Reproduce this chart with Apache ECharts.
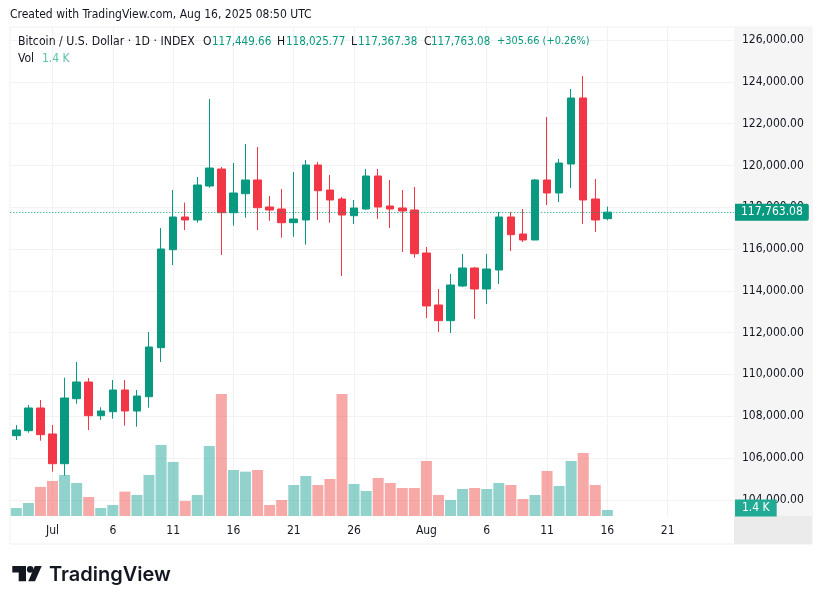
<!DOCTYPE html>
<html>
<head>
<meta charset="utf-8">
<title>Bitcoin / U.S. Dollar</title>
<script src="https://cdn.jsdelivr.net/npm/echarts@6/dist/echarts.min.js"></script>
<style>
  html, body { margin: 0; padding: 0; background: #fff; }
  #chart { width: 822px; height: 604px; }
</style>
</head>
<body>
<div id="chart"></div>
<script>
// one entry per day, 28 Jun to 26 Aug (the last ten days have no candle yet)
const dayLabels = ['28','29','30','Jul','2','3','4','5','6','7','8','9','10','11','12','13','14','15','16','17','18','19','20','21','22','23','24','25','26','27','28','29','30','31','Aug','2','3','4','5','6','7','8','9','10','11','12','13','14','15','16','17','18','19','20','21','22','23','24','25','26']
const labelledDays = [3, 8, 13, 18, 23, 28, 34, 39, 44, 49, 54]

const openValues = [107066,107305,108391,107147,105726,108836,109635,108023,108214,109252,108248,108932,111277,115966,117531,117387,119014,119827,117736,118645,119301,118009,117913,117258,117387,120019,118822,118392,117593,117913,119492,118057,117961,117865,115808,113320,112569,114229,115090,114085,114994,117531,116717,116430,119301,118679,120067,123225,118392,117449.66]
const closeValues = [107338,108391,107114,105726,108870,109635,108023,108248,109252,108248,108965,111310,115999,117531,117387,119062,119875,117736,118679,119301,117976,117865,117258,117435,120019,118789,118344,117626,117961,119492,118009,117913,117818,115774,113272,112569,114277,115090,114085,115042,117531,116684,116430,119301,118679,120114,123225,118344,117387,117763.08]
const lowValues = [106860,107209,106827,105343,105152,108597,107338,107817,107879,107544,107496,108406,110592,115234,116908,117258,118933,115712,117114,117497,116908,117354,116540,116588,116205,117387,117258,114707,117196,117865,117435,117004,115856,115583,112698,112028,111980,114181,112650,113368,114325,115904,116334,116430,118105,118248,118918,117196,116813,117367.38]
const highValues = [107578,108535,108774,107578,109841,110592,109827,108425,109731,109731,109252,112028,117004,118822,118215,119445,123177,119923,120114,121024,120880,118535,118870,119684,120258,120162,119540,118488,118344,119827,119827,119301,118822,118966,116095,114085,114803,115760,115138,115760,117770,117770,117913,119349,122316,120306,123655,124277,119349,118025.77]
const volumeValues = [1.87,3.03,6.77,8.17,9.57,7.7,4.43,1.87,2.57,5.68,4.9,9.57,16.57,12.6,3.5,4.9,16.33,28.47,10.73,10.34,10.73,2.57,3.73,7.23,9.33,7.23,8.63,28.47,7.47,5.83,8.87,7.7,6.53,6.53,12.83,4.9,3.73,6.3,6.53,6.3,7.7,7.23,3.97,4.9,10.5,7,12.83,14.7,7.23,1.4]
const priceTicks = [104000,106000,108000,110000,112000,114000,116000,118000,120000,122000,124000,126000]
const lastPrice = 117763.08
const lastVolume = 1.4

const UP = '#089981'
const DOWN = '#F23645'
const FONT = '"DejaVu Sans Condensed", "DejaVu Sans", sans-serif'

const candleData = openValues.map((o, i) => [o, closeValues[i], lowValues[i], highValues[i]])
const volumeData = volumeValues.map((v, i) => ({
  value: v,
  itemStyle: { color: closeValues[i] >= openValues[i] ? 'rgba(38,166,154,0.5)' : 'rgba(239,83,80,0.5)' }
}))

const formatPrice = (v) => v.toLocaleString('en-US', { minimumFractionDigits: 2, maximumFractionDigits: 2 })

const headerText = (x, y, text, fill, size) => ({
  type: 'text', x, y, z: 10, silent: true,
  style: { text, fill: fill || '#131722', font: (size || 12) + 'px ' + FONT }
})

const chart = echarts.init(document.getElementById('chart'), null, { renderer: 'canvas' })

chart.setOption({
  animation: false,
  backgroundColor: '#fff',
  grid: { left: 10.3, right: 88, top: 27, bottom: 88 },
  xAxis: {
    type: 'category',
    data: dayLabels,
    boundaryGap: true,
    axisLine: { show: false },
    axisTick: { show: false },
    axisLabel: {
      interval: (i) => labelledDays.includes(i),
      color: '#131722',
      fontFamily: FONT,
      fontSize: 12,
      margin: 9
    },
    splitLine: {
      show: true,
      alignWithLabel: true,
      interval: (i) => labelledDays.includes(i),
      lineStyle: { color: '#f2f2f2', width: 1 }
    }
  },
  yAxis: [
    {
      type: 'value',
      position: 'right',
      min: 103223,
      max: 126622,
      axisLine: { show: false },
      axisTick: { show: false, customValues: priceTicks },
      axisLabel: {
        customValues: priceTicks,
        formatter: (v) => formatPrice(v),
        color: '#131722',
        fontFamily: FONT,
        fontSize: 12,
        margin: 8,
        padding: [0, 0, 3, 0]
      },
      splitLine: { show: true, lineStyle: { color: '#f2f2f2', width: 1 } }
    },
    { type: 'value', min: 0, max: 114, show: false, splitLine: { show: false } }
  ],
  series: [
    {
      name: 'Vol',
      type: 'bar',
      yAxisIndex: 1,
      barWidth: 11,
      data: volumeData,
      markLine: {
        silent: true,
        symbol: 'none',
        lineStyle: { color: 'transparent', width: 0 },
        label: {
          position: 'end',
          distance: 1,
          formatter: '1.4 K',
          color: '#fff',
          fontFamily: FONT,
          fontSize: 12,
          backgroundColor: '#22ab94',
          padding: [3, 7, 2, 7],
          offset: [0, -2]
        },
        data: [{ yAxis: lastVolume }]
      }
    },
    {
      name: 'BTCUSD',
      type: 'candlestick',
      barWidth: 8,
      data: candleData,
      itemStyle: { color: UP, color0: DOWN, borderColor: UP, borderColor0: DOWN, borderWidth: 1 },
      markLine: {
        silent: true,
        symbol: 'none',
        lineStyle: { color: UP, type: [1, 2], width: 1 },
        label: {
          position: 'end',
          distance: 1,
          formatter: formatPrice(lastPrice),
          color: '#fff',
          fontFamily: FONT,
          fontSize: 12,
          backgroundColor: UP,
          padding: [3, 6, 2, 6],
          borderRadius: [0, 2, 2, 0]
        },
        data: [{ yAxis: lastPrice }]
      }
    }
  ],
  graphic: [
    { type: 'rect', silent: true, z: -10, shape: { x: 734, y: 27, width: 78, height: 489 }, style: { fill: '#f5f5f5' } },
    { type: 'rect', silent: true, z: -10, shape: { x: 734, y: 516, width: 78, height: 28 }, style: { fill: '#ebebeb' } },
    { type: 'rect', silent: true, z: -11, shape: { x: 10, y: 27, width: 802, height: 517 }, style: { fill: '#fff', stroke: '#f0f0f0', lineWidth: 1 } },
    headerText(10, 8.5, 'Created with TradingView.com, Aug 16, 2025 08:50 UTC'),
    headerText(18, 35.5, 'Bitcoin / U.S. Dollar · 1D · INDEX', null, 12.2),
    headerText(203, 35.5, 'O'),
    headerText(212, 36, '117,449.66', UP, 11.5),
    headerText(277, 35.5, 'H'),
    headerText(286, 36, '118,025.77', UP, 11.5),
    headerText(351, 35.5, 'L'),
    headerText(358, 36, '117,367.38', UP, 11.5),
    headerText(424, 35.5, 'C'),
    headerText(431, 36, '117,763.08', UP, 11.5),
    headerText(497, 36, '+305.66 (+0.26%)', UP, 10.9),
    headerText(18, 52.5, 'Vol'),
    headerText(42, 52.5, '1.4 K', '#5bc0b0'),
    // logo
    { type: 'polygon', silent: true, shape: { points: [[12.3, 566], [26, 566], [26, 581.3], [18.7, 581.3], [18.7, 572.5], [12.3, 572.5]] }, style: { fill: '#131722' } },
    { type: 'polygon', silent: true, shape: { points: [[34.8, 566], [41.7, 566], [35, 581.3], [28.3, 581.3]] }, style: { fill: '#131722' } },
    { type: 'circle', silent: true, shape: { cx: 30.2, cy: 569.4, r: 3.3 }, style: { fill: '#131722' } },
    { type: 'text', x: 49, y: 564.5, silent: true, style: { text: 'TradingView', fill: '#131722', font: '600 20px Inter, sans-serif' } }
  ]
})

window.addEventListener('resize', () => chart.resize())
</script>
</body>
</html>
